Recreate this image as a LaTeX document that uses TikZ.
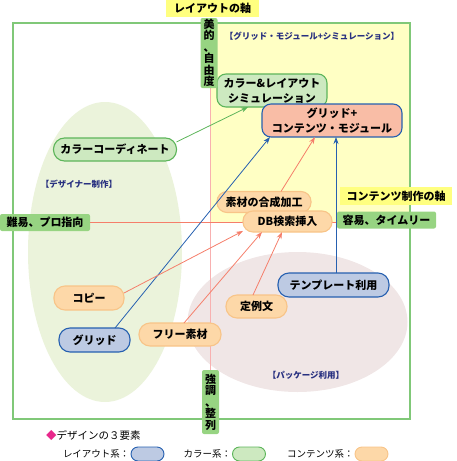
\documentclass[tikz,border=0pt]{standalone}
\usepackage{fontspec}
\setmainfont{Noto Sans CJK JP}[BoldFont={Noto Sans CJK JP Black}]
\usetikzlibrary{arrows.meta,backgrounds,calc}
\definecolor{framegreen}{HTML}{80C878}
\definecolor{regyellow}{HTML}{FFFFC4}
\definecolor{reggreen}{HTML}{EBF3DB}
\definecolor{regpink}{HTML}{F0E6E6}
\definecolor{gfill}{HTML}{CDE9C0}
\definecolor{gdraw}{HTML}{5DB55A}
\definecolor{bfill}{HTML}{BDCAE3}
\definecolor{bdraw}{HTML}{2660B0}
\definecolor{ofill}{HTML}{FDD8A8}
\definecolor{odraw}{HTML}{F8C488}
\definecolor{sfill}{HTML}{F9BDA6}
\definecolor{lgreen}{HTML}{97D482}
\definecolor{lyellow}{HTML}{FFFF80}
\definecolor{axpink}{HTML}{F8B0B0}
\definecolor{salm}{HTML}{F57E6A}
\definecolor{navy}{HTML}{283080}
\definecolor{mag}{HTML}{E8288C}
\begin{document}
\begin{tikzpicture}[x=1pt,y=-1pt,
  every node/.style={inner sep=0pt,outer sep=0pt},
  nodetxt/.style={font=\fontsize{11pt}{15pt}\selectfont\bfseries,align=center,line width=1.1pt},
  gnode/.style={nodetxt,fill=gfill,draw=gdraw},
  bnode/.style={nodetxt,fill=bfill,draw=bdraw},
  onode/.style={nodetxt,fill=ofill,draw=odraw},
  snode/.style={nodetxt,fill=sfill,draw=bdraw},
  axlabel/.style={font=\fontsize{11pt}{11.5pt}\selectfont\bfseries,align=center,rounded corners=2pt},
  brlabel/.style={font=\fontsize{8.5pt}{9pt}\selectfont\bfseries,text=navy},
  legtxt/.style={font=\fontsize{9.5pt}{10pt}\selectfont,anchor=east},
  legpill/.style={minimum width=33pt,minimum height=14pt,rounded corners=7pt,line width=0.9pt},
  arr/.style={line width=0.8pt,-{Stealth[length=7pt,width=5pt]}}
]
\useasboundingbox (0,0) rectangle (456,461);

% nodes
\node[gnode,minimum width=110pt,minimum height=33pt,rounded corners=9pt] (sim) at (272,90.5) {カラー\&レイアウト\\シミュレーション};
\node[snode,minimum width=140pt,minimum height=33pt,rounded corners=9pt] (gridmod) at (332,120.5) {グリッド+\\コンテンツ・モジュール};
\node[gnode,minimum width=123pt,minimum height=23pt,rounded corners=11pt] (colorco) at (115,149.5) {カラーコーディネート};
\node[onode,minimum width=94pt,minimum height=21pt,rounded corners=10pt] (sozai) at (264,202) {素材の合成加工};
\node[onode,minimum width=89pt,minimum height=21pt,rounded corners=10pt] (db) at (287.5,221.5) {DB検索挿入};
\node[bnode,minimum width=111pt,minimum height=24pt,rounded corners=11pt] (temp) at (333.5,285) {テンプレート利用};
\node[onode,minimum width=70pt,minimum height=24pt,rounded corners=11pt] (copy) at (89,298) {コピー};
\node[onode,minimum width=61pt,minimum height=23pt,rounded corners=11pt] (teirei) at (256.5,306.5) {定例文};
\node[onode,minimum width=82pt,minimum height=23pt,rounded corners=11pt] (free) at (180,334.5) {フリー素材};
\node[bnode,minimum width=71pt,minimum height=24pt,rounded corners=11pt] (grid) at (94.5,340) {グリッド};

% axis labels
\node[axlabel,fill=lyellow,minimum width=93pt,minimum height=17pt,rounded corners=0pt] (title) at (212.5,8) {レイアウトの軸};
\node[axlabel,fill=lgreen,minimum width=17pt,minimum height=70pt] (bitop) at (209,53) {美\\的\\、\\自\\由\\度};
\node[axlabel,fill=lgreen,minimum width=17pt,minimum height=64pt] (kyobot) at (210.5,402) {強\\調\\、\\整\\列};
\node[axlabel,fill=lgreen,minimum width=90pt,minimum height=17pt] (nan) at (45,222.5) {難易、プロ指向};
\node[axlabel,fill=lgreen,minimum width=99pt,minimum height=17pt] (yoi) at (386.5,220) {容易、タイムリー};
\node[axlabel,fill=lyellow,minimum width=112pt,minimum height=18pt,rounded corners=0pt] (contax) at (396,196) {コンテンツ制作の軸};

% bracket labels
\node[brlabel] (lblgm) at (312,36.5) {【グリッド・モジュール+シミュレーション】};
\node[brlabel] (lbldes) at (79,184) {【デザイナー制作】};
\node[brlabel] (lblpkg) at (306,375) {【パッケージ利用】};

% legend
\node[font=\fontsize{10.5pt}{11pt}\selectfont,anchor=west] (legt) at (46,436) {\textcolor{mag}{◆}デザインの３要素};
\node[legpill,fill=bfill,draw=bdraw] (pb) at (147.5,454) {};
\node[legtxt] (tb) at ([xshift=-1.5pt]pb.west) {レイアウト系：};
\node[legpill,fill=gfill,draw=gdraw] (pg) at (249,454) {};
\node[legtxt] (tg) at ([xshift=-1.5pt]pg.west) {カラー系：};
\node[legpill,fill=ofill,draw=odraw] (po) at (371.5,454) {};
\node[legtxt] (to) at ([xshift=-1.5pt]po.west) {コンテンツ系：};

% background regions and axes
\begin{pgfonlayer}{background}
  \fill[regyellow] (211,23) rectangle (410,222);
  \fill[reggreen] (105,252) ellipse [x radius=77, y radius=150];
  \fill[regpink] (297.5,322) ellipse [x radius=110, y radius=70];
  \draw[framegreen,line width=1.3pt] (13,23) rectangle (410,419);
  \draw[axpink,line width=1.5pt] (bitop.south -| kyobot.north) -- (kyobot.north);
  \draw[salm,line width=0.9pt] (nan.east) -- (nan.east -| yoi.west);
\end{pgfonlayer}

% connectors
\draw[arr,gdraw] (colorco.7) -- ([xshift=-24pt]sim.south);
\draw[arr,bdraw] ([xshift=20.5pt]grid.north) -- ([xshift=-62pt]gridmod.south);
\draw[arr,salm] ([xshift=17pt]sozai.north) -- ([xshift=-17pt]gridmod.south);
\draw[arr,bdraw] ([xshift=2.5pt]temp.north) -- ([xshift=4pt]gridmod.south);
\draw[arr,salm] ([yshift=5pt]copy.east) -- (db.192);
\draw[arr,salm] ([xshift=4pt]free.north) -- ([xshift=-25.5pt]db.south);
\draw[arr,salm] ([xshift=-3.5pt]teirei.north) -- ([xshift=-5.5pt]db.south);
\end{tikzpicture}
\end{document}
